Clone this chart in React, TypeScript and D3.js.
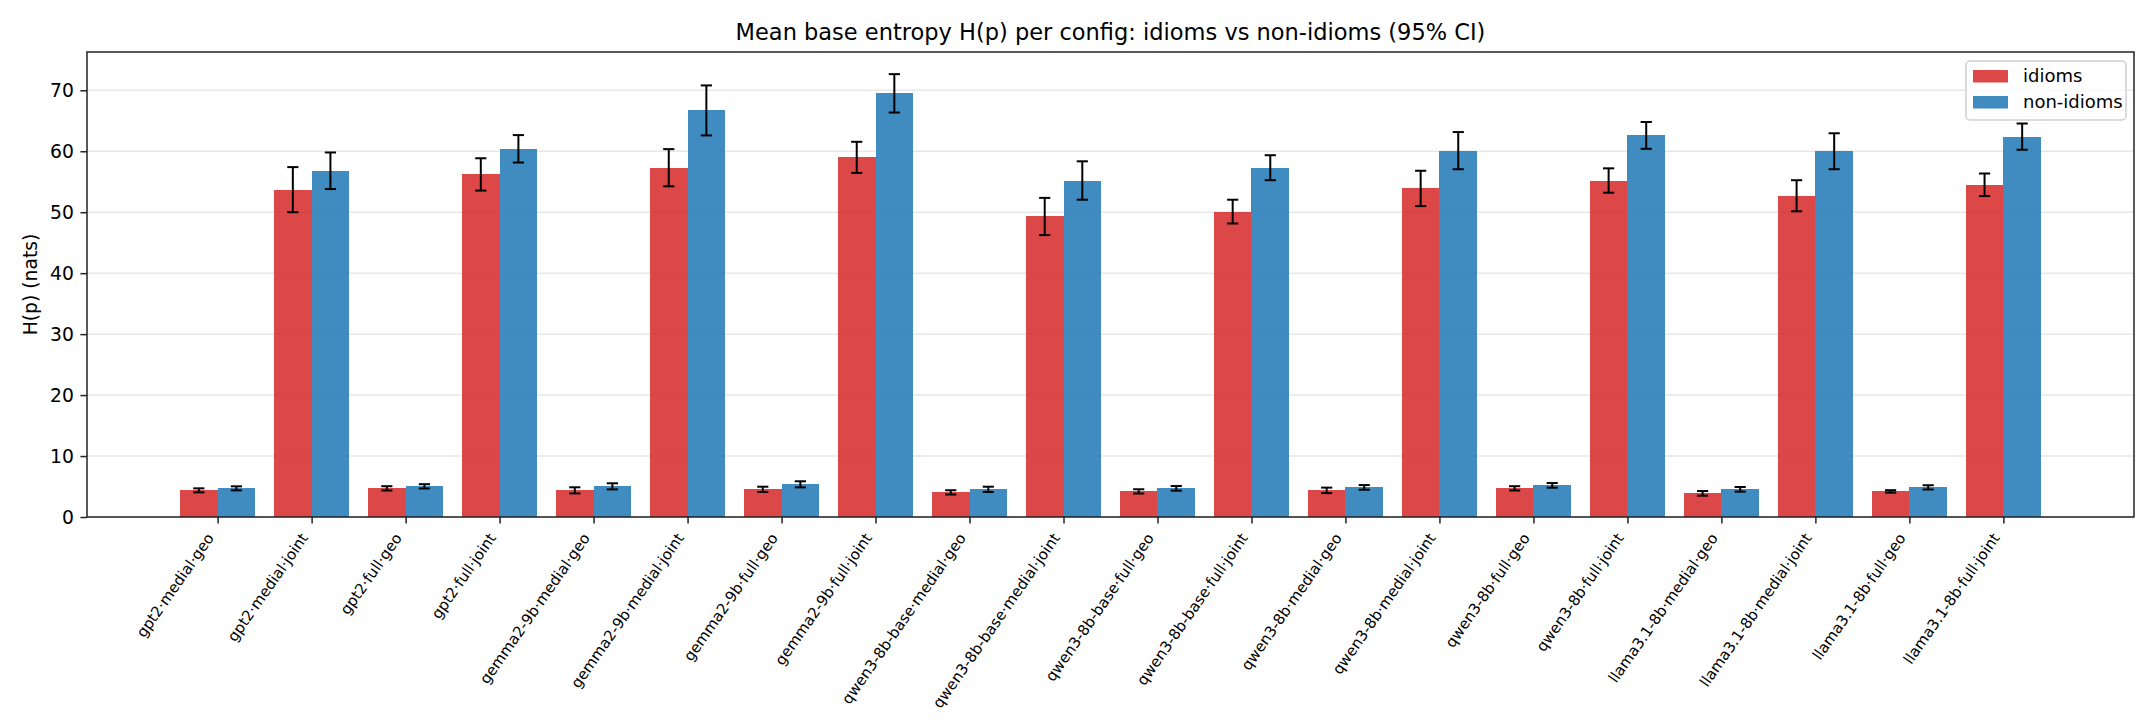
import React, { useRef, useEffect } from 'react';
import * as d3 from 'd3';

const configs: string[] = [
  'gpt2·medial·geo', 'gpt2·medial·joint', 'gpt2·full·geo', 'gpt2·full·joint',
  'gemma2-9b·medial·geo', 'gemma2-9b·medial·joint', 'gemma2-9b·full·geo', 'gemma2-9b·full·joint',
  'qwen3-8b-base·medial·geo', 'qwen3-8b-base·medial·joint', 'qwen3-8b-base·full·geo', 'qwen3-8b-base·full·joint',
  'qwen3-8b·medial·geo', 'qwen3-8b·medial·joint', 'qwen3-8b·full·geo', 'qwen3-8b·full·joint',
  'llama3.1-8b·medial·geo', 'llama3.1-8b·medial·joint', 'llama3.1-8b·full·geo', 'llama3.1-8b·full·joint',
];

const idiomMean: number[] = [
  4.37, 53.7, 4.70, 56.2, 4.37, 57.3, 4.54, 59.0, 4.04, 49.3,
  4.20, 50.1, 4.37, 53.9, 4.70, 55.2, 3.88, 52.7, 4.20, 54.5,
];
const idiomErr: number[] = [
  0.33, 3.7, 0.35, 2.65, 0.5, 3.05, 0.43, 2.55, 0.35, 3.05,
  0.35, 1.95, 0.45, 2.9, 0.35, 2.0, 0.38, 2.55, 0.2, 1.85,
];
const nonIdiomMean: number[] = [
  4.70, 56.8, 5.03, 60.4, 5.03, 66.7, 5.36, 69.5, 4.54, 55.2,
  4.70, 57.3, 4.86, 60.1, 5.19, 62.6, 4.54, 60.0, 4.86, 62.4,
];
const nonIdiomErr: number[] = [
  0.33, 3.0, 0.35, 2.25, 0.5, 4.1, 0.5, 3.15, 0.43, 3.15,
  0.38, 2.05, 0.38, 3.05, 0.38, 2.2, 0.38, 2.95, 0.35, 2.15,
];

const yTicks: number[] = [0, 10, 20, 30, 40, 50, 60, 70];

const seriesNames = ['idioms', 'non-idioms'];
const seriesColors = ['#d62728', '#1f77b4'];

interface BarDatum {
  i: number;
  s: number;
  mean: number;
  err: number;
}

const App: React.FC = () => {
  const svgRef = useRef<SVGSVGElement | null>(null);

  const width = 2156;
  const height = 728;
  const marginTop = 52;
  const marginRight = 22;
  const marginBottom = 211;
  const marginLeft = 87;
  const barW = 0.4;

  useEffect(() => {
    if (!svgRef.current) {
      return;
    }
    const svg = d3.select(svgRef.current);
    svg.selectAll('*').remove();

    const bars: BarDatum[] = [];
    configs.forEach((_, i) => {
      bars.push({ i, s: 0, mean: idiomMean[i], err: idiomErr[i] });
      bars.push({ i, s: 1, mean: nonIdiomMean[i], err: nonIdiomErr[i] });
    });

    // matplotlib-style 5% margins around the data
    const xLo = -barW;
    const xHi = configs.length - 1 + barW;
    const xPad = (xHi - xLo) * 0.05;
    const x = d3.scaleLinear()
      .domain([xLo - xPad, xHi + xPad])
      .range([marginLeft, width - marginRight]);

    const yMax = (d3.max(bars, d => d.mean + d.err) ?? 0) * 1.05;
    const y = d3.scaleLinear()
      .domain([0, yMax])
      .range([height - marginBottom, marginTop]);

    const font = '"DejaVu Sans", sans-serif';

    // grid
    svg.append('g')
      .selectAll('line')
      .data(yTicks)
      .join('line')
      .attr('x1', marginLeft)
      .attr('x2', width - marginRight)
      .attr('y1', d => y(d))
      .attr('y2', d => y(d))
      .attr('stroke', '#b0b0b0')
      .attr('stroke-opacity', 0.3)
      .attr('stroke-width', 1.5);

    // bars
    svg.append('g')
      .attr('shape-rendering', 'crispEdges')
      .selectAll('rect')
      .data(bars)
      .join('rect')
      .attr('x', d => x(d.i - barW + d.s * barW))
      .attr('width', x(barW) - x(0))
      .attr('y', d => y(d.mean))
      .attr('height', d => y(0) - y(d.mean))
      .attr('fill', d => seriesColors[d.s])
      .attr('fill-opacity', 0.85);

    // error bars
    const cap = 5.6;
    const eb = svg.append('g')
      .attr('stroke', '#000')
      .attr('stroke-width', 2);
    bars.forEach(d => {
      const cx = x(d.i - barW / 2 + d.s * barW);
      eb.append('line')
        .attr('x1', cx).attr('x2', cx)
        .attr('y1', y(d.mean - d.err)).attr('y2', y(d.mean + d.err));
      eb.append('line')
        .attr('x1', cx - cap).attr('x2', cx + cap)
        .attr('y1', y(d.mean - d.err)).attr('y2', y(d.mean - d.err));
      eb.append('line')
        .attr('x1', cx - cap).attr('x2', cx + cap)
        .attr('y1', y(d.mean + d.err)).attr('y2', y(d.mean + d.err));
    });

    // spines
    svg.append('rect')
      .attr('x', marginLeft)
      .attr('y', marginTop)
      .attr('width', width - marginRight - marginLeft)
      .attr('height', height - marginBottom - marginTop)
      .attr('fill', 'none')
      .attr('stroke', '#222')
      .attr('stroke-width', 1.5);

    // y axis
    svg.append('g')
      .attr('transform', `translate(${marginLeft},0)`)
      .call(d3.axisLeft(y).tickValues(yTicks).tickSize(6.6).tickPadding(6.6).tickFormat(d3.format('d')))
      .call(g => g.select('.domain').remove())
      .call(g => g.selectAll('.tick line').attr('stroke', '#222').attr('stroke-width', 1.5))
      .call(g => g.selectAll('.tick text')
        .attr('fill', '#000')
        .style('font-family', font)
        .style('font-size', '18.75px'));

    // x axis
    svg.append('g')
      .attr('transform', `translate(0,${height - marginBottom})`)
      .call(d3.axisBottom(x).tickValues(d3.range(configs.length)).tickSize(6.6).tickFormat(() => ''))
      .call(g => g.select('.domain').remove())
      .call(g => g.selectAll('.tick line').attr('stroke', '#222').attr('stroke-width', 1.5));

    svg.append('g')
      .selectAll('text')
      .data(configs)
      .join('text')
      .attr('transform', (_, i) => `translate(${x(i) - 3},${height - marginBottom + 21}) rotate(-55)`)
      .attr('text-anchor', 'end')
      .style('font-family', font)
      .style('font-size', '15px')
      .attr('fill', '#000')
      .text(d => d);

    // y label
    svg.append('text')
      .attr('transform', `translate(37,${(marginTop + height - marginBottom) / 2}) rotate(-90)`)
      .attr('text-anchor', 'middle')
      .style('font-family', font)
      .style('font-size', '18.75px')
      .text('H(p) (nats)');

    // title
    svg.append('text')
      .attr('x', (marginLeft + width - marginRight) / 2)
      .attr('y', 40)
      .attr('text-anchor', 'middle')
      .style('font-family', font)
      .style('font-size', '22.5px')
      .text('Mean base entropy H(p) per config: idioms vs non-idioms (95% CI)');

    // legend
    const lg = svg.append('g').attr('transform', 'translate(1966,61)');
    lg.append('rect')
      .attr('width', 160)
      .attr('height', 59)
      .attr('rx', 4)
      .attr('fill', '#fff')
      .attr('fill-opacity', 0.8)
      .attr('stroke', '#d0d0d0')
      .attr('stroke-width', 1.5);
    seriesNames.forEach((name, k) => {
      lg.append('rect')
        .attr('x', 7)
        .attr('y', 9 + k * 26)
        .attr('width', 35)
        .attr('height', 12.5)
        .attr('fill', seriesColors[k])
        .attr('fill-opacity', 0.85);
      lg.append('text')
        .attr('x', 57)
        .attr('y', 21 + k * 26)
        .style('font-family', font)
        .style('font-size', '18px')
        .text(name);
    });
  }, []);

  return (
    <svg
      ref={svgRef}
      width={width}
      height={height}
      style={{ position: 'absolute', left: 0, top: 0, background: '#fff' }}
    />
  );
};

export default App;
